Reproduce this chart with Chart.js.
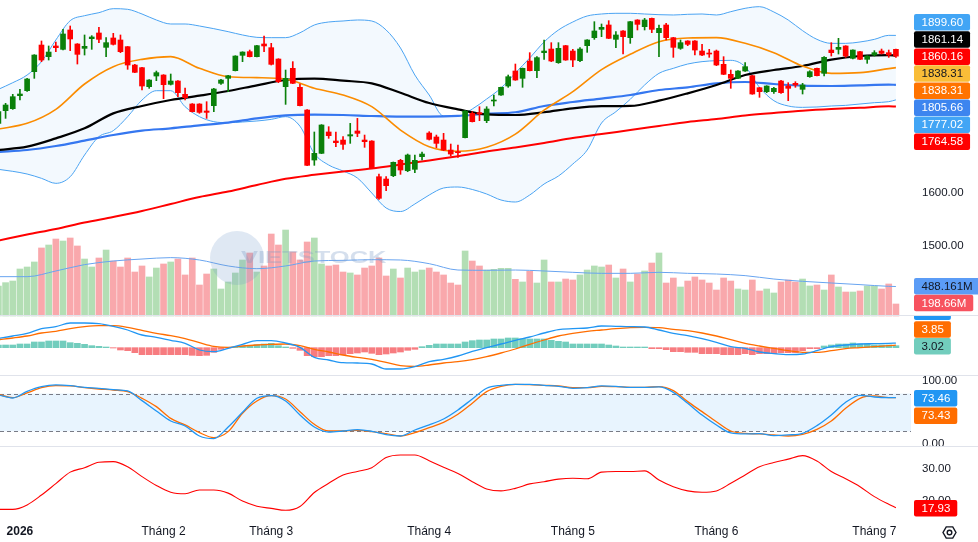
<!DOCTYPE html>
<html>
<head>
<meta charset="utf-8">
<script src="https://cdn.jsdelivr.net/npm/chart.js@4.4.1/dist/chart.umd.min.js"></script>
<style>
html,body{margin:0;padding:0;background:#ffffff;overflow:hidden;}
#wrap{position:relative;width:978px;height:542px;}
</style>
</head>
<body>
<div id="wrap"><canvas id="c"></canvas></div>
<script>
// ---------------- DATA ----------------
const candleOpen = [
1732.4,1756.5,1760.3,1785.0,1794.5,1830.6,1881.3,1859.2,1879.5,1873.1,
1909.9,1883.3,1875.0,1893.4,1904.2,1876.9,1894.7,1890.9,1878.2,1843.3,
1838.3,1802.1,1822.4,1824.3,1806.6,1812.9,1787.6,1769.2,1769.2,1755.9,
1766.0,1808.5,1818.0,1832.6,1861.7,1868.7,1859.2,1883.3,1876.3,1854.7,
1802.1,1837.0,1800.9,1757.8,1662.7,1675.4,1716.0,1698.8,1700.7,1708.4,
1717.9,1700.7,1698.8,1631.0,1626.6,1632.9,1662.1,1642.4,1645.0,1669.1,
1714.0,1706.5,1700.7,1681.7,1678.6,1705.2,1751.4,1752.7,1737.5,1774.9,
1786.3,1803.4,1831.9,1818.0,1850.9,1832.6,1866.8,1873.7,1847.8,1880.1,
1869.9,1851.6,1880.1,1895.3,1911.1,1919.4,1892.1,1908.0,1895.3,1928.9,
1916.2,1932.0,1904.8,1919.4,1895.3,1875.0,1889.0,1889.0,1869.9,1865.5,
1869.9,1844.6,1825.6,1818.0,1831.9,1823.0,1800.2,1792.6,1792.6,1812.9,
1803.4,1808.5,1797.1,1821.1,1837.0,1827.5,1871.8,1873.1,1879.5,1856.0,
1868.7,1854.1,1862.3,1869.9,1866.8,1873.1];
const candleHigh = [
1757.8,1770.5,1787.6,1797.1,1818.0,1863.0,1889.0,1879.5,1887.1,1911.1,
1917.5,1884.0,1900.4,1899.1,1914.9,1895.3,1903.5,1900.4,1878.5,1844.6,
1839.0,1815.5,1831.9,1825.0,1826.2,1813.5,1799.6,1770.0,1769.8,1773.6,
1799.0,1816.1,1823.5,1861.0,1868.5,1871.8,1880.7,1898.5,1884.5,1855.3,
1833.8,1849.7,1807.2,1758.5,1716.0,1730.0,1726.1,1716.0,1707.1,1732.4,
1741.9,1710.2,1699.5,1636.1,1631.0,1659.0,1664.0,1674.1,1672.2,1677.9,
1716.6,1710.2,1713.4,1693.1,1691.2,1756.5,1754.6,1764.1,1764.1,1786.3,
1801.5,1824.3,1845.2,1837.6,1866.8,1859.2,1890.9,1885.8,1885.8,1880.7,
1873.1,1876.3,1891.5,1925.7,1921.3,1927.6,1906.7,1908.6,1926.3,1929.5,
1932.0,1932.6,1919.4,1922.5,1895.9,1890.9,1889.6,1889.6,1882.6,1873.1,
1871.8,1859.2,1833.8,1832.5,1847.8,1823.6,1800.8,1804.0,1800.9,1814.2,
1809.7,1811.6,1808.5,1832.5,1837.6,1859.2,1885.8,1894.0,1880.1,1872.4,
1869.3,1861.0,1870.6,1873.7,1871.8,1873.7];
const candleLow = [
1729.3,1741.9,1759.0,1776.8,1793.0,1818.0,1849.7,1852.8,1868.7,1872.0,
1870.6,1845.2,1862.3,1873.1,1885.8,1859.2,1881.3,1866.8,1835.1,1828.8,
1795.8,1799.0,1813.5,1779.3,1805.3,1783.1,1776.8,1754.0,1751.4,1741.9,
1754.6,1806.6,1792.6,1832.0,1849.7,1858.6,1858.6,1868.7,1843.3,1809.7,
1768.5,1807.9,1765.4,1652.0,1652.6,1674.8,1703.9,1688.1,1683.0,1694.4,
1707.1,1686.8,1646.3,1587.9,1604.4,1631.0,1635.5,1640.5,1638.6,1662.7,
1700.7,1686.2,1680.5,1670.3,1667.8,1704.6,1735.0,1737.5,1733.7,1765.4,
1785.7,1800.9,1814.2,1800.9,1832.0,1819.3,1854.1,1849.7,1846.5,1852.2,
1840.2,1849.7,1867.4,1892.1,1897.2,1893.4,1876.3,1864.2,1884.5,1909.9,
1909.9,1904.8,1859.2,1890.9,1857.9,1873.1,1880.1,1862.3,1861.1,1857.9,
1842.1,1825.0,1799.0,1817.4,1831.3,1787.6,1781.9,1790.7,1789.5,1789.5,
1775.5,1800.9,1788.2,1819.9,1822.4,1822.4,1860.4,1864.2,1857.9,1854.7,
1853.5,1846.5,1860.4,1864.2,1857.9,1857.9];
const candleClose = [
1754.6,1767.3,1783.1,1788.2,1816.7,1862.3,1852.8,1868.0,1876.3,1902.3,
1892.8,1863.6,1878.8,1896.6,1892.1,1885.8,1882.6,1868.7,1843.3,1829.4,
1803.4,1814.8,1828.8,1805.9,1812.9,1790.7,1781.2,1754.6,1753.3,1753.3,
1797.7,1814.8,1823.0,1860.4,1868.0,1859.2,1880.1,1879.5,1844.6,1811.6,
1818.0,1808.5,1766.0,1652.6,1675.4,1729.3,1709.0,1695.7,1692.5,1710.9,
1713.4,1697.6,1646.9,1589.9,1613.9,1658.3,1643.7,1672.2,1662.1,1674.1,
1702.0,1694.4,1681.7,1674.1,1676.7,1755.9,1735.6,1750.2,1759.7,1776.8,
1800.9,1821.1,1814.8,1837.0,1832.6,1857.3,1869.9,1850.9,1875.0,1852.8,
1852.8,1873.7,1890.9,1908.0,1914.9,1894.0,1900.4,1897.2,1925.7,1920.6,
1928.9,1911.1,1913.0,1895.3,1876.9,1885.8,1882.6,1871.8,1862.3,1864.2,
1843.3,1825.6,1818.0,1831.9,1840.2,1788.2,1792.6,1803.4,1799.0,1790.7,
1799.0,1805.3,1805.3,1830.6,1823.0,1857.9,1866.8,1876.9,1860.4,1871.8,
1854.1,1860.4,1866.8,1865.5,1862.3,1860.16];
// volume in millions of shares
const volume = [
497,552,579,778,811,894,1126,1175,1274,1241,
1291,1159,943,811,960,1092,910,811,960,728,
828,646,794,861,894,943,679,960,513,695,
778,447,563,712,927,1043,728,828,1357,1175,
1423,1059,927,1225,1291,861,828,844,728,712,
679,794,828,960,662,778,629,794,728,761,
794,728,679,546,513,1076,910,828,761,772,
789,789,607,563,739,546,927,563,563,612,
596,679,761,828,811,844,629,778,563,695,
745,877,1043,546,629,480,579,646,596,546,
430,629,579,447,430,596,414,447,381,563,
596,563,612,497,513,430,679,480,397,397,
414,497,497,447,530,198.66];

// smooth overlays sampled every 4 sessions
const lineIdx = [0,4,8,12,16,20,24,28,32,36,40,44,48,52,56,60,64,68,72,76,80,84,88,92,96,100,104,108,112,116,120,124,125];
const ma20 = [1721.7,1732.4,1759.0,1807.2,1840.2,1854.1,1859.2,1837.0,1821.1,1819.3,1816.7,1799.0,1786.3,1764.1,1719.7,1688.0,1679.5,1687.0,1712.0,1757.5,1792.6,1834.5,1863.6,1887.7,1894.7,1895.3,1884.5,1866.8,1841.4,1827.5,1828.8,1836.4,1838.31];
const ma50 = [1681.7,1688.1,1703.9,1722.9,1751.4,1765.4,1776.8,1785.0,1793.9,1804.7,1814.8,1817.4,1813.5,1808.5,1790.5,1771.0,1759.0,1749.5,1748.3,1753.5,1761.0,1765.0,1765.5,1775.5,1789.5,1805.3,1824.3,1833.8,1841.4,1853.5,1860.4,1862.3,1861.14];
const ma100 = [1677.9,1681.7,1689.3,1699.5,1710.2,1718.5,1722.9,1728.6,1733.7,1741.9,1747.6,1748.9,1748.3,1746.4,1745.1,1745.1,1746.5,1750.8,1753.5,1765.4,1773.0,1779.5,1786.3,1795.8,1800.9,1808.5,1811.0,1807.2,1804.0,1803.4,1804.7,1805.9,1805.66];
const ma200 = [1509.7,1521.1,1531.6,1543.9,1554.4,1565.8,1579.1,1592.4,1602.9,1615.2,1627.0,1634.5,1641.0,1646.5,1654.0,1662.0,1670.0,1679.0,1686.5,1695.0,1704.5,1712.0,1719.8,1727.4,1735.0,1740.7,1747.3,1752.1,1756.5,1759.7,1762.0,1764.8,1764.58];
const volMa = [651,651,745,850,910,943,966,927,828,783,828,910,921,932,927,866,761,756,761,745,723,706,706,723,706,695,668,612,574,546,519,491,488.161];

// Bollinger bands sampled every 2 sessions
const bbIdx = [0,2,4,6,8,10,12,14,16,18,20,22,24,26,28,30,32,34,36,38,40,42,44,46,48,50,52,54,56,58,60,62,64,66,68,70,72,74,76,78,80,82,84,86,88,90,92,94,96,98,100,102,104,106,108,110,112,114,116,118,120,122,124,125];
const bbUpper = [1797.1,1809.7,1824.3,1849.7,1890.9,1927.6,1937.1,1942.8,1950.4,1949.2,
1940.3,1928.9,1921.3,1921.3,1917.5,1912.4,1906.7,1900.4,1895.9,1895.3,
1895.3,1904.6,1919.4,1925.1,1927.0,1928.9,1927.0,1909.9,1875.7,1824.3,
1786.3,1746.4,1746.4,1759.7,1778.7,1799.6,1828.1,1856.7,1887.1,1909.9,
1925.1,1936.5,1940.3,1941.6,1941.6,1940.3,1939.0,1938.4,1939.7,1940.3,
1938.4,1944.7,1951.1,1954.2,1944.1,1928.9,1908.6,1892.1,1884.5,1884.5,
1887.1,1892.1,1899.7,1899.60];
const bbLower = [1645.0,1641.2,1636.1,1627.9,1618.4,1631.0,1672.2,1707.1,1718.5,1745.1,
1776.8,1794.5,1794.5,1764.1,1745.1,1735.6,1733.7,1735.0,1736.9,1740.0,
1745.1,1727.0,1675.0,1653.2,1641.8,1628.5,1600.0,1571.5,1564.8,1579.1,
1596.2,1609.5,1611.4,1606.7,1598.1,1586.7,1582.9,1596.2,1617.1,1632.3,
1655.1,1681.7,1733.0,1754.6,1778.1,1805.3,1827.5,1837.0,1845.2,1849.7,
1851.6,1852.2,1840.2,1800.9,1775.5,1765.4,1762.8,1763.5,1765.4,1766.6,
1769.2,1771.7,1773.6,1777.02];

// MACD (lines sampled every 2 sessions, histogram per session)
const oscIdx = bbIdx;
const macdLine = [14.0,17.5,21.5,28.5,31.5,37.0,37.0,36.0,32.0,26.5,
19.0,15.5,11.0,6.5,-3.5,-6.0,-1.0,5.0,10.5,10.5,
7.0,0.5,-14.5,-18.5,-22.5,-23.0,-24.5,-32.0,-32.0,-28.5,
-21.0,-17.5,-12.5,-5.5,0.0,5.5,11.0,16.0,22.0,27.0,
28.5,29.5,32.5,32.0,31.5,31.0,26.5,21.5,18.0,13.5,
8.0,1.5,-1.0,-6.5,-9.0,-10.5,-9.5,-4.5,1.5,4.0,
5.5,6.0,6.5,6.87];
const macdSignal = [12.0,14.5,17.5,22.0,24.5,28.5,31.5,33.0,33.0,30.5,
26.0,21.5,18.0,13.5,7.5,2.0,0.5,2.5,4.0,5.0,
5.5,3.0,-2.5,-6.5,-11.0,-14.5,-17.5,-22.0,-27.0,-28.0,
-26.0,-23.0,-21.0,-18.0,-13.5,-8.0,-2.0,5.0,11.5,17.5,
21.5,24.5,26.5,28.5,30.0,30.5,30.0,27.5,25.5,22.0,
17.5,12.0,6.5,2.5,-1.0,-4.5,-7.0,-7.0,-4.5,-1.5,
0.0,1.5,3.0,3.85];
const macdHist = [4.0,4.0,4.0,5.5,5.5,8.5,8.5,10.0,10.0,10.0,
7.5,6.5,5.0,3.0,2.0,1.0,-0.5,-3.5,-4.5,-7.5,
-10.5,-10.5,-10.5,-10.5,-10.5,-10.5,-10.5,-11.5,-12.0,-11.5,
-7.0,-2.5,-0.5,0.5,2.0,3.0,4.5,5.5,6.5,3.0,
1.0,-1.0,-4.0,-12.0,-13.5,-13.5,-12.0,-12.0,-11.0,-9.0,
-8.0,-6.5,-8.5,-10.5,-9.5,-8.0,-6.5,-4.0,-2.5,1.5,
3.5,5.5,5.5,5.5,5.5,8.5,10.5,11.5,11.5,13.0,
13.0,14.5,14.5,13.5,13.0,13.0,13.0,11.0,9.5,8.5,
5.5,5.5,5.5,5.5,5.5,4.0,2.5,1.0,1.0,1.0,
1.0,-1.5,-1.5,-3.0,-6.0,-6.0,-7.0,-7.0,-9.0,-9.0,
-9.0,-10.5,-10.5,-10.5,-9.0,-10.5,-9.0,-9.0,-9.0,-7.5,
-7.5,-7.5,-4.5,-1.5,-1.5,2.5,4.0,5.5,5.5,7.0,
5.5,5.5,4.0,4.0,4.0,3.02];

// Stochastic and trend-strength line, sampled every 2 sessions
const stochK = [77.8,73.0,83.6,91.0,93.7,92.6,89.9,88.4,86.2,84.1,
68.8,52.4,36.5,28.6,12.7,8.5,27.0,50.3,72.5,76.7,
68.3,46.0,27.0,19.0,20.6,22.8,20.1,14.8,12.7,22.2,
30.2,39.7,54.0,71.4,88.4,93.1,94.7,94.7,93.1,91.5,
88.4,89.4,92.1,91.5,89.9,89.9,90.5,82.0,64.6,46.0,
30.2,17.5,15.9,16.4,13.2,14.3,16.9,29.1,46.0,66.1,
77.2,74.6,73.5,73.46];
const stochD = [78.8,73.5,81.0,89.4,92.6,92.1,89.4,87.3,85.7,83.1,
72.5,59.3,40.7,30.2,18.0,10.1,19.6,48.7,68.3,76.7,
71.4,51.3,31.2,20.6,20.6,21.7,19.6,16.4,12.7,18.0,
25.9,34.4,47.1,64.6,83.1,91.5,94.7,94.2,93.1,92.1,
89.4,89.4,91.5,91.0,89.9,89.9,91.0,84.7,67.2,51.3,
35.4,20.6,16.9,15.9,14.3,12.7,15.3,23.3,36.5,56.6,
72.5,76.2,73.5,73.43];
const adxLine = [17.4,17.4,18.8,21.9,25.5,29.1,30.5,32.2,32.4,30.8,
27.7,24.9,22.8,22.3,23.5,23.5,22.5,20.0,18.4,17.7,
17.1,18.3,22.7,25.6,28.2,29.3,30.5,33.7,34.5,34.5,
32.7,30.6,28.7,26.1,23.8,23.2,24.0,25.4,26.1,26.9,
27.2,27.0,29.1,29.3,29.3,29.5,26.6,24.5,23.2,22.8,
23.2,25.6,28.2,30.8,32.1,33.2,34.3,32.6,29.3,27.0,
24.5,21.4,19.0,17.93];

// time axis
const monthTickIdx = [3,23,38,60,80,100,122];
const monthTickLabels = ['2026','Tháng 2','Tháng 3','Tháng 4','Tháng 5','Tháng 6','Tháng 7'];
// value-axis tick labels
const priceTicks = [1500,1600];
const stochTicks = [0,100];
const adxTicks = [20,30];
const stochBand = [20,80];

// ---------------- BUILD ----------------
const N = candleClose.length;
const idxAll = Array.from({length:N},(_,i)=>i);
const isUp = idxAll.map(i => candleClose[i] >= candleOpen[i]);
const P = (idx, vals) => idx.map((x,k)=>({x:x, y:vals[k]}));
const last = a => a[a.length-1];

const UP = '#0a800a', DN = '#ff0000';
const VUP = '#b3deb4', VDN = '#f9a8ac';
const FONT = 'Liberation Sans';
Chart.defaults.font.family = FONT;

function lineDs(label, axis, data, color, width, order, extra) {
  return Object.assign({type:'line', label, yAxisID:axis, data, borderColor:color, borderWidth:width,
    pointRadius:0, pointHoverRadius:0, fill:false, cubicInterpolationMode:'monotone', order}, extra||{});
}

const yAxisCommon = (extra) => Object.assign({
  type:'linear', position:'right', stack:'panes',
  grid:{display:false, drawTicks:false}, border:{display:false},
  ticks:{padding:11, color:'#131722', autoSkip:false, font:{family:FONT, size:11.5}, callback:v=>Number(v).toFixed(2)},
  afterFit: s => { s.width = 67; s.paddingTop = 0; s.paddingBottom = 0; s.paddingLeft = 0; s.paddingRight = 0; }
}, extra);

const tagList = [
  {pane:'yPrice', text:bbUpper[bbUpper.length-1].toFixed(2), bg:'#42a5f5', fg:'#ffffff', y:22.2},
  {pane:'yPrice', text:last(ma50).toFixed(2), bg:'#000000', fg:'#ffffff', y:39.5},
  {pane:'yPrice', text:last(candleClose).toFixed(2), bg:'#ff0000', fg:'#ffffff', y:56.7},
  {pane:'yPrice', text:last(ma20).toFixed(2), bg:'#f9bd38', fg:'#131722', y:73.5},
  {pane:'yPrice', text:last(ma20).toFixed(2), bg:'#ff7300', fg:'#ffffff', y:90.7},
  {pane:'yPrice', text:last(ma100).toFixed(2), bg:'#3d85ef', fg:'#ffffff', y:107.8},
  {pane:'yPrice', text:last(bbLower).toFixed(2), bg:'#42a5f5', fg:'#ffffff', y:124.7},
  {pane:'yPrice', text:last(ma200).toFixed(2), bg:'#ff0000', fg:'#ffffff', y:141.7},
  {pane:'yPrice', text:last(volMa).toFixed(3)+'M', bg:'#5b9cf6', fg:'#131722', y:286.2},
  {pane:'yPrice', text:last(volume).toFixed(2)+'M', bg:'#f7525f', fg:'#ffffff', y:303},
  {pane:'yMacd', text:last(macdLine).toFixed(2), bg:'#2196f3', fg:'#ffffff', y:311.8},
  {pane:'yMacd', text:last(macdSignal).toFixed(2), bg:'#ff6d00', fg:'#ffffff', y:329.5},
  {pane:'yMacd', text:last(macdHist).toFixed(2), bg:'#72cdbd', fg:'#131722', y:346.3},
  {pane:'yStoch', text:last(stochK).toFixed(2), bg:'#2196f3', fg:'#ffffff', y:398.3},
  {pane:'yStoch', text:last(stochD).toFixed(2), bg:'#ff6d00', fg:'#ffffff', y:415.7},
  {pane:'yAdx', text:last(adxLine).toFixed(2), bg:'#ff0000', fg:'#ffffff', y:508.3}
];

const panePlugin = {
  id:'panes',
  beforeDatasetsDraw(chart){
    const {ctx, chartArea:ca, scales} = chart;
    ctx.save();
    const ys = scales.yStoch;
    const yTop = ys.getPixelForValue(stochBand[1]), yBot = ys.getPixelForValue(stochBand[0]);
    ctx.fillStyle = 'rgba(33,150,243,0.1)';
    ctx.fillRect(ca.left, yTop, ca.right - ca.left, yBot - yTop);
    ctx.strokeStyle = '#787b86'; ctx.lineWidth = 1; ctx.setLineDash([4,3]);
    [yTop, yBot].forEach(y=>{ const yy = Math.round(y)+0.5; ctx.beginPath(); ctx.moveTo(ca.left, yy); ctx.lineTo(ca.right, yy); ctx.stroke(); });
    ctx.setLineDash([]);
    ctx.restore();
  },
  afterDatasetsDraw(chart){
    // faint watermark
    const {ctx, scales} = chart;
    const cx = 237, cy = scales.yPrice.bottom - 58;
    ctx.save();
    ctx.fillStyle = 'rgba(110,150,200,0.22)';
    ctx.beginPath(); ctx.arc(cx, cy, 27, 0, Math.PI*2); ctx.fill();
    ctx.translate(241, cy + 5);
    ctx.scale(1.5, 1);
    ctx.font = 'bold 17px "'+FONT+'"';
    ctx.fillStyle = 'rgba(125,155,200,0.32)';
    ctx.textBaseline = 'alphabetic';
    ctx.fillText('VIETSTOCK', 0, 0);
    ctx.restore();
  },
  afterDraw(chart){
    const {ctx, chartArea:ca, scales} = chart;
    ctx.save();
    // the stochastic "0.00" label is cut at its pane edge, as in the reference
    ctx.fillStyle = '#ffffff';
    ctx.fillRect(ca.right + 1, Math.round(scales.yStoch.bottom), chart.width - ca.right, 6);
    // pane separators
    ctx.strokeStyle = '#e0e3eb'; ctx.lineWidth = 1;
    [scales.yPrice.bottom, scales.yMacd.bottom, scales.yStoch.bottom].forEach(y=>{
      const yy = Math.round(y)-0.5; ctx.beginPath(); ctx.moveTo(0, yy); ctx.lineTo(chart.width, yy); ctx.stroke();
    });
    ctx.font = '11.5px "'+FONT+'"';
    ctx.textBaseline = 'middle';
    const x0 = ca.right + 3;
    tagList.forEach(t=>{
      const s = scales[t.pane];
      ctx.save();
      ctx.beginPath(); ctx.rect(0, s.top, chart.width, s.bottom - s.top); ctx.clip();
      const w = ctx.measureText(t.text).width + 14.5;
      ctx.fillStyle = t.bg;
      ctx.beginPath();
      if (ctx.roundRect) ctx.roundRect(x0, t.y - 8.3, w, 16.6, 2); else ctx.rect(x0, t.y - 8.3, w, 16.6);
      ctx.fill();
      ctx.fillStyle = t.fg;
      ctx.fillText(t.text, x0 + 7.5, t.y + 0.5);
      ctx.restore();
    });
    // settings icon
    const gx = 949.5, gy = 532.5, r = 6.5;
    ctx.strokeStyle = '#131722'; ctx.lineWidth = 1.4;
    ctx.beginPath();
    for (let k=0;k<6;k++){ const a = k*Math.PI/3; const px = gx + r*Math.cos(a), py = gy + r*Math.sin(a); if(k===0) ctx.moveTo(px,py); else ctx.lineTo(px,py); }
    ctx.closePath(); ctx.stroke();
    ctx.beginPath(); ctx.arc(gx, gy, 2.3, 0, Math.PI*2); ctx.stroke();
    ctx.restore();
  }
};

const datasets = [
  {type:'bar', label:'Thân nến', yAxisID:'yPrice', data: idxAll.map(i=>({x:i, y:[candleOpen[i], candleClose[i]]})),
   backgroundColor: isUp.map(u=>u?UP:DN), barThickness:5, minBarLength:1, grouped:false, borderWidth:0, order:0},
  {type:'bar', label:'Bóng nến', yAxisID:'yPrice', data: idxAll.map(i=>({x:i, y:[candleLow[i], candleHigh[i]]})),
   backgroundColor: isUp.map(u=>u?UP:DN), barThickness:1, grouped:false, borderWidth:0, order:1},
  lineDs('MA20','yPrice',P(lineIdx,ma20),'#fb8c00',1.6,2),
  lineDs('MA50','yPrice',P(lineIdx,ma50),'#000000',2.2,3),
  lineDs('MA100','yPrice',P(lineIdx,ma100),'#3577f0',2.2,4),
  lineDs('MA200','yPrice',P(lineIdx,ma200),'#ff0000',2,5),
  lineDs('BB trên','yPrice',P(bbIdx,bbUpper),'#4aa3f2',1,6,{fill:'+1', backgroundColor:'rgba(33,150,243,0.055)'}),
  lineDs('BB dưới','yPrice',P(bbIdx,bbLower),'#4aa3f2',1,7),
  lineDs('Vol MA','yVol',P(lineIdx,volMa),'#68a4f0',1,8),
  {type:'bar', label:'Khối lượng', yAxisID:'yVol', data: idxAll.map(i=>({x:i, y:volume[i]})),
   backgroundColor: isUp.map(u=>u?VUP:VDN), barThickness:6, grouped:false, borderWidth:0, order:9},
  {type:'bar', label:'Histogram', yAxisID:'yMacd', data: idxAll.map(i=>({x:i, y:macdHist[i]})),
   backgroundColor: macdHist.map(h=>h>=0?'#72cdbd':'#f77c80'), barThickness:6, grouped:false, borderWidth:0, order:12},
  lineDs('MACD','yMacd',P(oscIdx,macdLine),'#2196f3',1.3,10),
  lineDs('Signal','yMacd',P(oscIdx,macdSignal),'#ff6d00',1.3,11),
  lineDs('%K','yStoch',P(oscIdx,stochK),'#2196f3',1.3,10),
  lineDs('%D','yStoch',P(oscIdx,stochD),'#ff6d00',1.3,11),
  lineDs('ADX','yAdx',P(oscIdx,adxLine),'#ff0000',1.1,10)
];

new Chart(document.getElementById('c'), {
  type:'bar',
  data:{datasets},
  options:{
    responsive:true, maintainAspectRatio:false, animation:false,
    layout:{padding:0},
    plugins:{legend:{display:false}, tooltip:{enabled:false}, filler:{drawTime:'beforeDatasetsDraw'}},
    scales:{
      x:{type:'linear', position:'bottom', min:0.223, max:127.1, offset:false,
         grid:{display:false, drawTicks:false}, border:{display:false},
         afterBuildTicks: s => { s.ticks = monthTickIdx.map(v=>({value:v})); },
         afterFit: s => { s.height = 25; s.paddingLeft = 0; s.paddingRight = 0; },
         ticks:{autoSkip:false, maxRotation:0, minRotation:0, padding:7, color:'#131722',
           font: c => ({family:FONT, size:12, weight: c.index === 0 ? 'bold' : 'normal'}),
           callback:(v,i)=>monthTickLabels[i]}},
      yPrice: yAxisCommon({stackWeight:316, min:1366.2, max:1966.9,
         afterBuildTicks: s => { s.ticks = priceTicks.map(v=>({value:v})); }}),
      yMacd: yAxisCommon({stackWeight:60, min:-42.5, max:47.5,
         afterBuildTicks: s => { s.ticks = []; }}),
      yStoch: yAxisCommon({stackWeight:71, min:-4.8, max:107.9,
         afterBuildTicks: s => { s.ticks = stochTicks.map(v=>({value:v})); }}),
      yAdx: yAxisCommon({stackWeight:70, min:15.0, max:37.0,
         afterBuildTicks: s => { s.ticks = adxTicks.map(v=>({value:v})); }}),
      yVol:{type:'linear', display:false, min:-3326.6, max:5229.8}
    }
  },
  plugins:[panePlugin]
});
</script>
</body>
</html>
